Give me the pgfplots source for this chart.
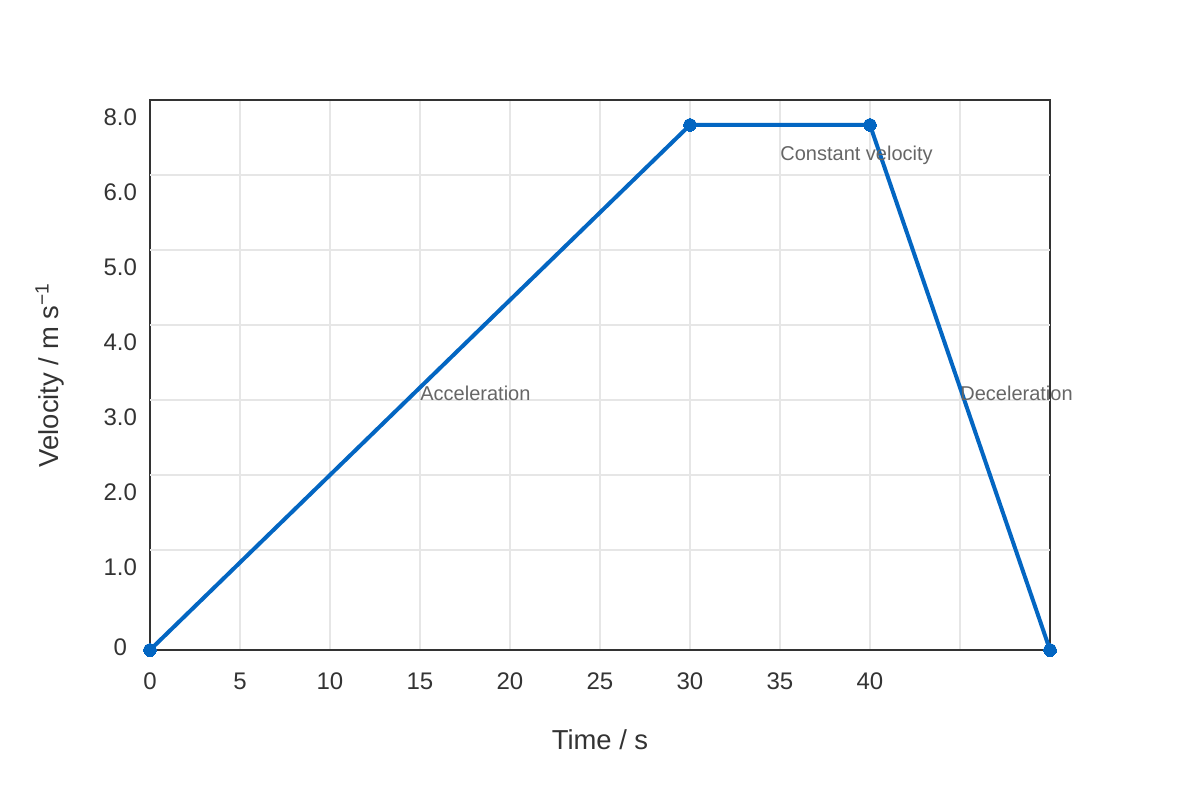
\documentclass[border=0pt]{standalone}
\usepackage{pgfplots}
\pgfplotsset{compat=1.18}
\usepackage{fontspec}
\setmainfont{Liberation Sans}

\definecolor{lineblue}{HTML}{0366C2}
\definecolor{axisdark}{HTML}{333333}
\definecolor{gridgray}{HTML}{E6E6E6}
\definecolor{notegray}{HTML}{666666}

\begin{document}
\begin{tikzpicture}
\useasboundingbox (0,0) rectangle (600pt,400pt);
\begin{axis}[
    at={(75pt,75pt)}, anchor=south west,
    scale only axis,
    width=450pt, height=275pt,
    xmin=0, xmax=50,
    ymin=0, ymax=7.33333,
    clip=false,
    axis line style={color=axisdark, line width=1.4pt},
    major tick length=0pt,
    xtick={0,5,...,45},
    xticklabels={0,5,10,15,20,25,30,35,40,{}},
    xmajorgrids=true,
    ytick={0.04,1.11,2.11,3.11,4.11,5.11,6.11,7.11},
    yticklabels={{0\rule{5pt}{0pt}},1.0,2.0,3.0,4.0,5.0,6.0,8.0},
    ymajorgrids=false,
    extra y ticks={1.33333,2.33333,3.33333,4.33333,5.33333,6.33333},
    extra y tick labels={},
    extra y tick style={grid=major},
    grid style={color=gridgray, line width=0.8pt},
    /pgf/number format/assume math mode=true,
    ticklabel style={font=\fontsize{12}{14}\selectfont, text=axisdark},
    xticklabel style={yshift=-8pt},
    yticklabel style={xshift=-3pt},
    xlabel={Time / s},
    ylabel={Velocity / m s\textsuperscript{−1}},
    label style={font=\fontsize{13.7}{16}\selectfont, text=axisdark},
    xlabel style={at={(axis description cs:0.5,-0.1636)}, anchor=center},
    ylabel style={at={(axis description cs:-0.1111,0.5)}, anchor=center},
]
\addplot[color=lineblue, line width=2pt, mark=*, mark size=3.2pt,
    mark options={fill=lineblue, draw=lineblue, line width=0pt}] coordinates {
    (0,0) (30,7) (40,7) (50,0)
};
\node[anchor=base west, inner sep=0pt, text=notegray, font=\fontsize{10}{12}\selectfont]
    at (axis cs:15,3.327) {Acceleration};
\node[anchor=base west, inner sep=0pt, text=notegray, font=\fontsize{10}{12}\selectfont]
    at (axis cs:35,6.524) {Constant velocity};
\node[anchor=base west, inner sep=0pt, text=notegray, font=\fontsize{10}{12}\selectfont]
    at (axis cs:45,3.327) {Deceleration};
\end{axis}
\end{tikzpicture}
\end{document}
